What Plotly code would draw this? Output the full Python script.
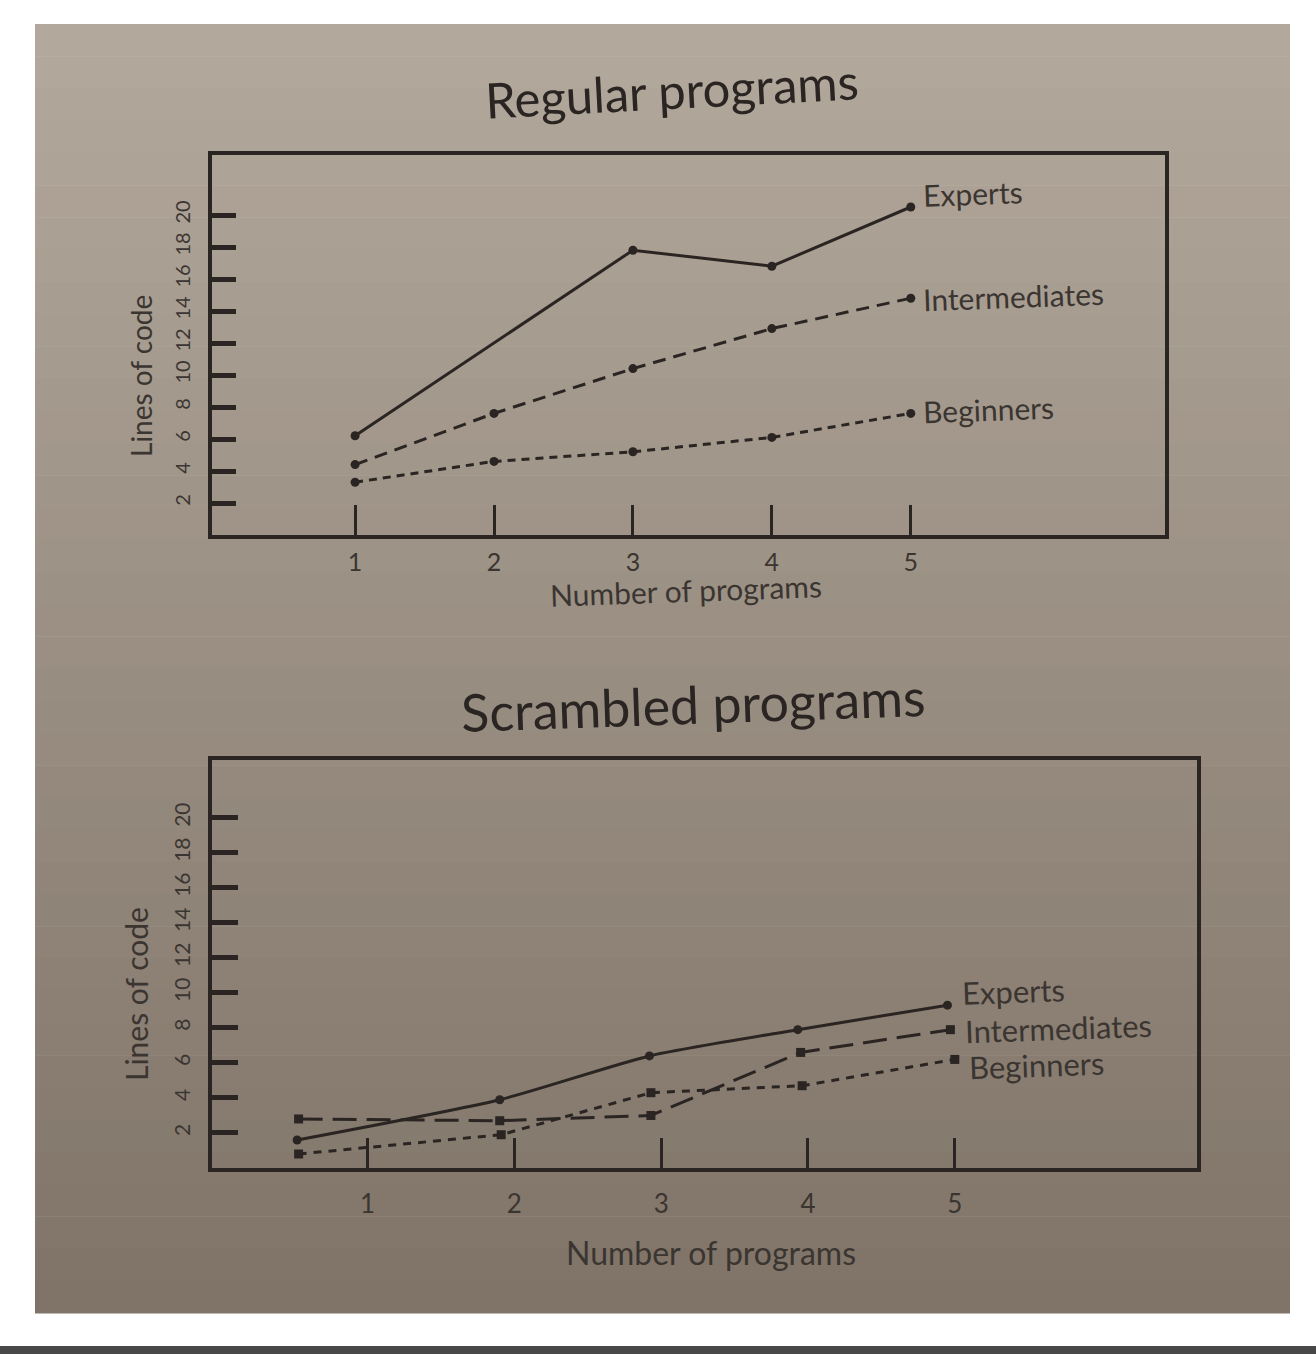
import plotly.graph_objects as go

W, H = 1316, 1354

# ---------------- data ----------------
series_names = ["Experts", "Intermediates", "Beginners"]

# Regular programs
reg_exp_x = [1, 3, 4, 5]
reg_exp_y = [6.2, 17.8, 16.8, 20.5]
reg_int_x = [1, 2, 3, 4, 5]
reg_int_y = [4.4, 7.6, 10.4, 12.9, 14.8]
reg_beg_x = [1, 2, 3, 4, 5]
reg_beg_y = [3.3, 4.6, 5.2, 6.1, 7.6]

# Scrambled programs
scr_exp_x = [0.52, 1.9, 2.92, 3.93, 4.95]
scr_exp_y = [1.6, 3.9, 6.4, 7.9, 9.3]
scr_int_x = [0.53, 1.9, 2.93, 3.95, 4.97]
scr_int_y = [2.8, 2.7, 3.0, 6.6, 7.9]
scr_beg_x = [0.53, 1.91, 2.93, 3.96, 5.0]
scr_beg_y = [0.8, 1.9, 4.3, 4.7, 6.2]

x_ticks = [1, 2, 3, 4, 5]
x_tick_labels = ["1", "2", "3", "4", "5"]
y_ticks = [2, 4, 6, 8, 10, 12, 14, 16, 18, 20]
y_tick_labels = [str(v) for v in y_ticks]

titles = ["Regular programs", "Scrambled programs"]
x_title = "Number of programs"
y_title = "Lines of code"

# ---------------- styling ----------------
INK = "#2a2522"
TXT = "#3b3531"
FONT = "Lato"


def px_x(p):
    return p / W


def px_y(p):
    return 1 - p / H


fig = go.Figure()

dash_styles = {
    "reg": ["solid", "13px,8px", "8px,6px"],
    "scr": ["solid", "24px,10px", "8px,7px"],
}

reg_sets = [(reg_exp_x, reg_exp_y), (reg_int_x, reg_int_y), (reg_beg_x, reg_beg_y)]
scr_sets = [(scr_exp_x, scr_exp_y), (scr_int_x, scr_int_y), (scr_beg_x, scr_beg_y)]

for i, (xs, ys) in enumerate(reg_sets):
    fig.add_trace(go.Scatter(
        x=xs, y=ys, mode="lines+markers", name=series_names[i],
        line=dict(color=INK, width=3, dash=dash_styles["reg"][i]),
        marker=dict(color=INK, size=9), xaxis="x", yaxis="y", showlegend=False))

for i, (xs, ys) in enumerate(scr_sets):
    fig.add_trace(go.Scatter(
        x=xs, y=ys, mode="lines+markers", name=series_names[i],
        line=dict(color=INK, width=3, dash=dash_styles["scr"][i],
                  shape="spline" if i == 0 else "linear", smoothing=0.6),
        marker=dict(color=INK, size=9,
                    symbol="circle" if i == 0 else "square"),
        xaxis="x2", yaxis="y2", showlegend=False))

axis_common = dict(
    showline=True, linecolor=INK, linewidth=4, mirror=True,
    showgrid=False, zeroline=False, ticks="inside",
    tickcolor=INK, fixedrange=True,
)

fig.update_layout(
    width=W, height=H,
    margin=dict(l=0, r=0, t=0, b=0),
    paper_bgcolor="white",
    plot_bgcolor="rgba(0,0,0,0)",
    font=dict(family=FONT, color=TXT),
    xaxis=dict(domain=[px_x(212), px_x(1165)], range=[-0.03, 6.83],
               tickvals=x_ticks, ticktext=x_tick_labels, ticklen=30, tickwidth=3,
               tickfont=dict(size=25, color=TXT), ticklabelstandoff=2,
               anchor="y", **axis_common),
    yaxis=dict(domain=[px_y(535), px_y(155)], range=[0, 23.75],
               tickvals=y_ticks, ticktext=y_tick_labels, ticklen=24, tickwidth=5,
               tickangle=-90, tickfont=dict(size=20, color=TXT),
               ticklabelstandoff=10,
               anchor="x", **axis_common),
    xaxis2=dict(domain=[px_x(212), px_x(1197)], range=[-0.06, 6.65],
                tickvals=x_ticks, ticktext=x_tick_labels, ticklen=30, tickwidth=3,
                tickfont=dict(size=26, color=TXT), ticklabelstandoff=10,
                anchor="y2", **axis_common),
    yaxis2=dict(domain=[px_y(1168), px_y(760)], range=[0, 23.3],
                tickvals=y_ticks, ticktext=y_tick_labels, ticklen=26, tickwidth=5,
                tickangle=-90, tickfont=dict(size=21, color=TXT),
                ticklabelstandoff=10,
                anchor="x2", **axis_common),
)

# ---------------- page background (photographed paper) ----------------
shapes = []
top_c = (178, 168, 155)
bot_c = (128, 116, 104)
page_top, page_bot = 24, 1313
n = 40
for k in range(n):
    t = k / (n - 1)
    c = tuple(int(round(top_c[j] + (bot_c[j] - top_c[j]) * t)) for j in range(3))
    y0 = page_top + (page_bot - page_top) * k / n
    y1 = page_top + (page_bot - page_top) * (k + 1) / n
    shapes.append(dict(type="rect", xref="paper", yref="paper",
                       x0=px_x(35), x1=px_x(1290), y0=px_y(y1 + 0.5), y1=px_y(y0),
                       fillcolor="rgb(%d,%d,%d)" % c, line=dict(width=0),
                       layer="below"))
shapes.append(dict(type="rect", xref="paper", yref="paper",
                   x0=0, x1=1, y0=0, y1=px_y(1346),
                   fillcolor="#484848", line=dict(width=0), layer="below"))
fig.update_layout(shapes=shapes)

# ---------------- text ----------------
ann = []
ann.append(dict(text=titles[0], xref="paper", yref="paper", x=px_x(672), y=px_y(90),
                showarrow=False, font=dict(size=49, color=INK, family=FONT),
                textangle=-3, xanchor="center", yanchor="middle"))
ann.append(dict(text=titles[1], xref="paper", yref="paper", x=px_x(693), y=px_y(704),
                showarrow=False, font=dict(size=52, color=INK, family=FONT),
                textangle=-2, xanchor="center", yanchor="middle"))
ann.append(dict(text=x_title, xref="paper", yref="paper", x=px_x(686), y=px_y(590),
                showarrow=False, font=dict(size=30, color=TXT, family=FONT),
                textangle=-2, xanchor="center", yanchor="middle"))
ann.append(dict(text=x_title, xref="paper", yref="paper", x=px_x(711), y=px_y(1252),
                showarrow=False, font=dict(size=32, color=TXT, family=FONT),
                xanchor="center", yanchor="middle"))
ann.append(dict(text=y_title, xref="paper", yref="paper", x=px_x(141), y=px_y(376),
                showarrow=False, font=dict(size=28, color=TXT, family=FONT),
                textangle=-90, xanchor="center", yanchor="middle"))
ann.append(dict(text=y_title, xref="paper", yref="paper", x=px_x(136), y=px_y(994),
                showarrow=False, font=dict(size=30, color=TXT, family=FONT),
                textangle=-90, xanchor="center", yanchor="middle"))

# series labels next to the last point of each line
reg_shift = [14, 2, 4]
scr_shift = [14, 2, -6]
for i, (xs, ys) in enumerate(reg_sets):
    ann.append(dict(text=series_names[i], xref="x", yref="y", x=xs[-1], y=ys[-1],
                    xanchor="left", yanchor="middle", xshift=10, yshift=reg_shift[i],
                    showarrow=False, textangle=-2,
                    font=dict(size=30, color=TXT, family=FONT)))
for i, (xs, ys) in enumerate(scr_sets):
    ann.append(dict(text=series_names[i], xref="x2", yref="y2", x=xs[-1], y=ys[-1],
                    xanchor="left", yanchor="middle", xshift=12, yshift=scr_shift[i],
                    showarrow=False, textangle=-2,
                    font=dict(size=31, color=TXT, family=FONT)))
fig.update_layout(annotations=ann)

fig.write_html("out.html",
               config={"displayModeBar": False},
               post_script="document.body.style.margin='0';"
                           "document.body.style.overflow='hidden';")
